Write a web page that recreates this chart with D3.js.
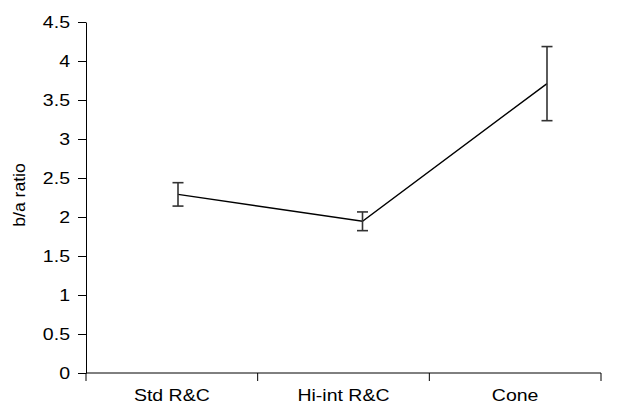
<!DOCTYPE html>
<html lang="en">
<head>
    <meta charset="UTF-8">
    <title>b/a ratio</title>
    <style>
        body { margin: 0; background: #fff; }
        text { font-family: "Liberation Sans", Arial, sans-serif; font-size: 16px; fill: #000; }
        .wide { transform-box: fill-box; transform: scaleX(1.22); }
        .y-ticks text { transform-origin: 100% 50%; }
        .x-ticks text { transform-origin: 50% 50%; }
    </style>
    <script src="https://cdnjs.cloudflare.com/ajax/libs/d3/7.8.5/d3.min.js"></script>
</head>
<body>
    <div id="chart"></div>
    <script>
        // data
        const categories = ['Std R&C', 'Hi-int R&C', 'Cone'];
        const means = [2.29, 1.945, 3.71];
        const errors = [0.15, 0.12, 0.475];
        const yTicks = [0, 0.5, 1, 1.5, 2, 2.5, 3, 3.5, 4, 4.5];

        const width = 640;
        const height = 407;
        const margin = {top: 22, right: 39, bottom: 34, left: 86};

        const svg = d3.select('#chart')
            .append('svg')
            .attr('width', width)
            .attr('height', height);

        const x = d3.scaleBand()
            .domain(categories)
            .range([margin.left, width - margin.right])
            .padding(0);

        // the points sit a bit off the category centres in the original
        const xp = d3.scalePoint()
            .domain(categories)
            .range([margin.left + 92, margin.left + 461]);

        const y = d3.scaleLinear()
            .domain([0, 4.5])
            .range([height - margin.bottom, margin.top]);

        // y axis
        const gy = svg.append('g')
            .attr('class', 'y-ticks')
            .attr('transform', `translate(${margin.left},0)`)
            .call(d3.axisLeft(y).tickValues(yTicks).tickFormat(d3.format('')).tickSize(8).tickPadding(8).tickSizeOuter(0));
        gy.selectAll('text').attr('class', 'wide');

        // x axis: line + boundary ticks
        const gx = svg.append('g')
            .attr('class', 'x-ticks')
            .attr('transform', `translate(0,${y(0)})`);
        gx.append('line')
            .attr('x1', x.range()[0]).attr('x2', x.range()[1])
            .attr('stroke', '#000');
        const bounds = categories.map(c => x(c)).concat([x.range()[1]]);
        gx.selectAll('.bt')
            .data(bounds)
            .enter()
            .append('line')
            .attr('x1', d => d).attr('x2', d => d)
            .attr('y1', 0).attr('y2', 8)
            .attr('stroke', '#000');
        gx.selectAll('.lbl')
            .data(categories)
            .enter()
            .append('text')
            .attr('class', 'wide')
            .attr('x', d => x(d) + x.bandwidth() / 2)
            .attr('y', 28)
            .attr('text-anchor', 'middle')
            .text(d => d);

        // y title
        svg.append('text')
            .attr('transform', `translate(25,195) rotate(-90) scale(1.1,1)`)
            .attr('text-anchor', 'middle')
            .text('b/a ratio');

        // line
        const pts = categories.map((c, i) => ({c, m: means[i], e: errors[i]}));
        svg.append('path')
            .datum(pts)
            .attr('fill', 'none')
            .attr('stroke', '#000')
            .attr('stroke-width', 1.4)
            .attr('d', d3.line().x(d => xp(d.c)).y(d => y(d.m)));

        // error bars
        const eb = svg.selectAll('.eb')
            .data(pts)
            .enter()
            .append('g')
            .attr('stroke', '#333')
            .attr('stroke-width', 1.6);
        eb.append('line')
            .attr('x1', d => xp(d.c)).attr('x2', d => xp(d.c))
            .attr('y1', d => y(d.m + d.e)).attr('y2', d => y(d.m - d.e));
        eb.append('line')
            .attr('x1', d => xp(d.c) - 5.5).attr('x2', d => xp(d.c) + 5.5)
            .attr('y1', d => y(d.m + d.e)).attr('y2', d => y(d.m + d.e));
        eb.append('line')
            .attr('x1', d => xp(d.c) - 5.5).attr('x2', d => xp(d.c) + 5.5)
            .attr('y1', d => y(d.m - d.e)).attr('y2', d => y(d.m - d.e));
    </script>
</body>
</html>
